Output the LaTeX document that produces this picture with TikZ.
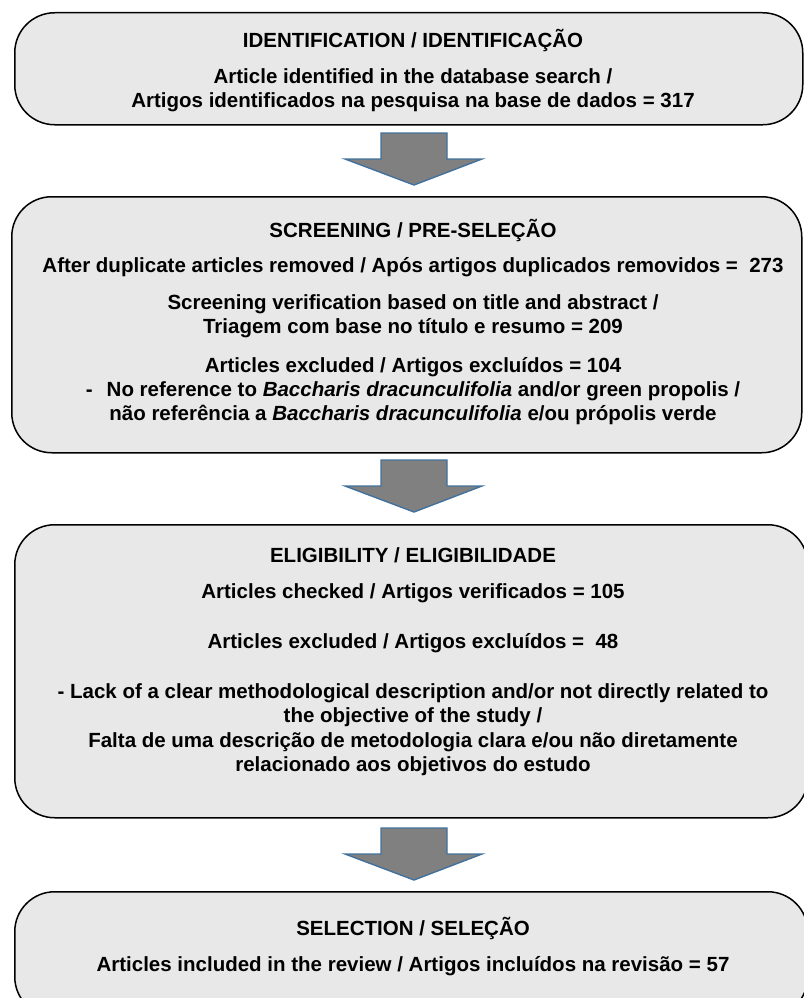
\documentclass[tikz,border=0pt]{standalone}
\usepackage{fontspec}
\setmainfont{Liberation Sans}
\usetikzlibrary{calc}
\definecolor{boxgray}{HTML}{E8E8E8}
\definecolor{arrgray}{HTML}{808080}
\definecolor{arrblue}{HTML}{41719C}
\begin{document}
\begin{tikzpicture}[x=1pt,y=-1pt,
  box/.style={draw=black, line width=1.5pt, fill=boxgray, rounded corners=40pt, inner sep=0pt},
  txt/.style={font=\bfseries\fontsize{20.5}{24}\selectfont, anchor=base, inner sep=0pt},
  blockarrow/.style={fill=arrgray, draw=arrblue, line width=1.4pt, line join=miter}]
\useasboundingbox (0,0) rectangle (803,998);
% boxes
\node[box, anchor=north west, minimum width=788pt, minimum height=112pt] (b1) at (14,12) {};
\node[box, anchor=north west, minimum width=790pt, minimum height=256pt] (b2) at (11,196) {};
\node[box, anchor=north west, minimum width=793pt, minimum height=293pt] (b3) at (14,524) {};
\node[box, anchor=north west, minimum width=793pt, minimum height=125pt] (b4) at (14,891) {};
% arrows
\foreach \t in {133,460,828}{
  \draw[blockarrow] (381,\t) -- (447,\t) -- (447,\t+26) -- (482,\t+26) -- (414,\t+52) -- (345,\t+26) -- (381,\t+26) -- cycle;
}
% box 1 text
\node[txt] (t11) at (413,48) {IDENTIFICATION / IDENTIFICAÇÃO};
\node[txt] (t12) at (413,83) {Article identified in the database search /};
\node[txt] (t13) at (413,107) {Artigos identificados na pesquisa na base de dados = 317};
% box 2 text
\node[txt] (t21) at (413,237) {SCREENING / PRE-SELEÇÃO};
\node[txt] (t22) at (413,272) {After duplicate articles removed / Após artigos duplicados removidos =~~273};
\node[txt] (t23) at (413,309) {Screening verification based on title and abstract /};
\node[txt] (t24) at (413,333) {Triagem com base no título e resumo = 209};
\node[txt] (t25) at (413,372) {Articles excluded / Artigos excluídos = 104};
\node[txt] (t26) at (413,396) {-\hspace{14pt}No reference to \textit{Baccharis dracunculifolia} and/or green propolis /};
\node[txt] (t27) at (413,420) {não referência a \textit{Baccharis dracunculifolia} e/ou própolis verde};
% box 3 text
\node[txt] (t31) at (413,562) {ELIGIBILITY / ELIGIBILIDADE};
\node[txt] (t32) at (413,598) {Articles checked / Artigos verificados = 105};
\node[txt] (t33) at (413,648) {Articles excluded / Artigos excluídos =~~48};
\node[txt] (t34) at (413,698) {- Lack of a clear methodological description and/or not directly related to};
\node[txt] (t35) at (413,722) {the objective of the study /};
\node[txt] (t36) at (413,747) {Falta de uma descrição de metodologia clara e/ou não diretamente};
\node[txt] (t37) at (413,771) {relacionado aos objetivos do estudo};
% box 4 text
\node[txt] (t41) at (413,935) {SELECTION / SELEÇÃO};
\node[txt] (t42) at (413,971) {Articles included in the review / Artigos incluídos na revisão = 57};
\end{tikzpicture}
\end{document}
